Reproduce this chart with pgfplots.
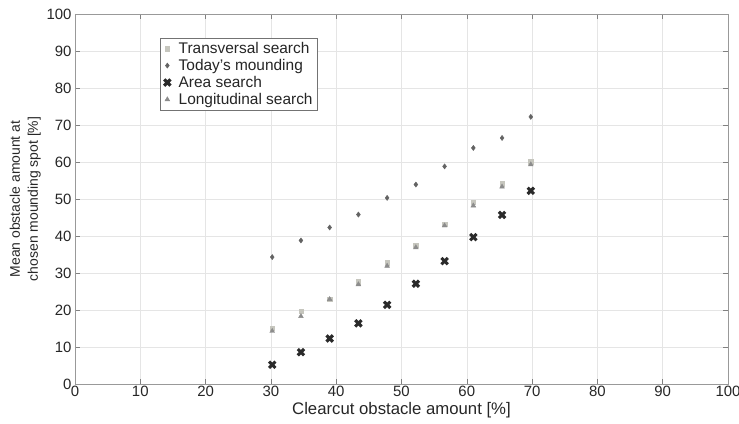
\documentclass[border=0pt]{standalone}
\usepackage{pgfplots}
\pgfplotsset{compat=1.18}
\usetikzlibrary{calc}
\usepackage{fontspec}
\setmainfont{Liberation Sans}
\definecolor{cTrans}{HTML}{C6C6BE}
\definecolor{cToday}{HTML}{636363}
\definecolor{cArea}{HTML}{2A2A2A}
\definecolor{cLong}{HTML}{8C8C8C}
\pgfplotsset{mylegimg/.style={legend image code/.code={\path[draw=none,fill=none] (0cm,-0.05cm) rectangle (0.48cm,0.05cm); \draw[##1] plot coordinates {(0.15cm,0cm)};}}}
\begin{document}
\begin{tikzpicture}
\begin{axis}[
  name=ax,
  scale only axis,
  width=653bp, height=370bp,
  xmin=0, xmax=100, ymin=0, ymax=100,
  xtick={0,10,...,100}, ytick={0,10,...,100},
  grid=major,
  grid style={draw=black!10, line width=0.6pt},
  axis line style={draw=black!40, line width=0.9pt},
  tick style={draw=black!50, line width=0.6pt},
  major tick length=5bp,
  tick align=inside,
  /pgf/number format/assume math mode=true,
  ticklabel style={font=\fontsize{15}{16}\selectfont, text=black!85},
  xticklabel style={yshift=1bp},
  xlabel={Clearcut obstacle amount [\%]},
  ylabel={Mean obstacle amount at\\chosen mounding spot [\%]},
  ylabel style={align=center, font=\fontsize{14}{18}\selectfont, text=black!85, yshift=-1bp},
  xlabel style={font=\fontsize{16.8}{18}\selectfont, text=black!85, yshift=2bp},
  legend style={at={(0.130,0.935)}, anchor=north west, font=\fontsize{15.5}{16}\selectfont,
    draw=black!55, row sep=0.3bp, inner xsep=3bp, inner ysep=2bp, text=black!85},
  legend cell align=left,
]
\addplot[only marks, mylegimg, mark=square*, mark size=2.2pt, color=cTrans] coordinates {
(30.2,15.0) (34.6,19.7) (39.0,23.0) (43.4,27.7) (47.8,32.8) (52.2,37.5) (56.6,43.2) (61.0,49.1) (65.4,54.1) (69.8,60.1)};
\addlegendentry{Transversal search}
\addplot[only marks, mylegimg, mark=diamond*, mark size=2.6pt, color=cToday] coordinates {
(30.2,34.3) (34.6,38.8) (39.0,42.3) (43.4,45.8) (47.8,50.3) (52.2,53.9) (56.6,58.8) (61.0,63.8) (65.4,66.5) (69.8,72.2)};
\addlegendentry{Today's mounding}
\addplot[only marks, mylegimg, mark=x, mark size=4.5pt, line width=3.1pt, color=cArea] coordinates {
(30.2,5.2) (34.6,8.6) (39.0,12.3) (43.4,16.4) (47.8,21.4) (52.2,27.1) (56.6,33.2) (61.0,39.7) (65.4,45.7) (69.8,52.2)};
\addlegendentry{Area search}
\addplot[only marks, mylegimg, mark=triangle*, mark size=2.8pt, color=cLong] coordinates {
(30.2,14.3) (34.6,18.3) (39.0,22.9) (43.4,26.9) (47.8,31.9) (52.2,36.9) (56.6,42.8) (61.0,48.2) (65.4,53.3) (69.8,59.3)};
\addlegendentry{Longitudinal search}
\end{axis}
\pgfresetboundingbox
\path[use as bounding box] ($(ax.south west)+(-75bp,-40bp)$) rectangle ($(ax.north east)+(11bp,14bp)$);
\end{tikzpicture}
\end{document}
